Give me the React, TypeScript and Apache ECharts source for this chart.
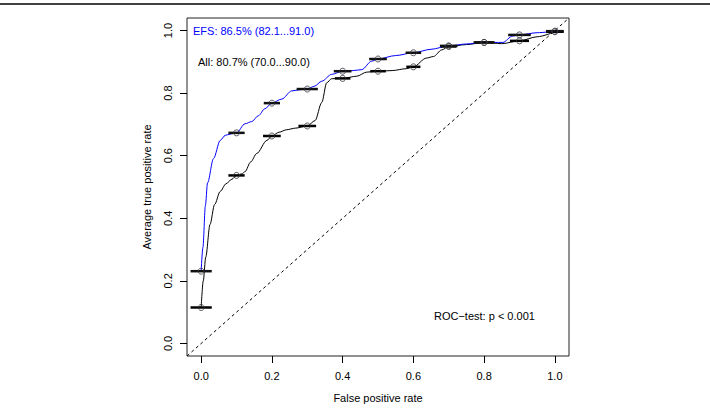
import React, { useEffect, useRef } from "react";
import * as echarts from "echarts";

// EFS averaged ROC curve
const efsX = [0, 0.005, 0.012, 0.018, 0.035, 0.054, 0.068, 0.082, 0.1, 0.124, 0.143, 0.162, 0.18, 0.2, 0.228, 0.256, 0.28, 0.3, 0.32, 0.341, 0.369, 0.4, 0.43, 0.454, 0.482, 0.5, 0.55, 0.6, 0.65, 0.7, 0.75, 0.8, 0.853, 0.88, 0.9, 0.95, 1.0];
const efsY = [0.231, 0.307, 0.44, 0.513, 0.591, 0.649, 0.665, 0.669, 0.673, 0.702, 0.709, 0.728, 0.75, 0.768, 0.781, 0.807, 0.811, 0.813, 0.822, 0.838, 0.86, 0.87, 0.872, 0.875, 0.902, 0.909, 0.92, 0.929, 0.94, 0.951, 0.957, 0.962, 0.962, 0.982, 0.986, 0.993, 0.998];

// All-features averaged ROC curve
const allX = [0, 0.006, 0.013, 0.025, 0.038, 0.054, 0.07, 0.087, 0.1, 0.115, 0.124, 0.14, 0.157, 0.186, 0.2, 0.22, 0.242, 0.266, 0.3, 0.322, 0.341, 0.355, 0.369, 0.4, 0.44, 0.468, 0.5, 0.54, 0.58, 0.6, 0.637, 0.657, 0.68, 0.7, 0.75, 0.8, 0.85, 0.9, 0.95, 1.0];
const allY = [0.115, 0.2, 0.276, 0.38, 0.444, 0.486, 0.51, 0.525, 0.537, 0.542, 0.549, 0.58, 0.607, 0.649, 0.663, 0.675, 0.683, 0.688, 0.695, 0.712, 0.77, 0.833, 0.846, 0.847, 0.854, 0.867, 0.87, 0.872, 0.878, 0.884, 0.912, 0.917, 0.938, 0.949, 0.955, 0.962, 0.958, 0.967, 0.98, 0.996];

// Threshold-averaged points with horizontal spread
const ptX = [0, 0.1, 0.2, 0.3, 0.4, 0.5, 0.6, 0.7, 0.8, 0.9, 1.0];
const efsPtY = [0.231, 0.673, 0.768, 0.813, 0.87, 0.909, 0.929, 0.951, 0.962, 0.986, 0.998];
const efsErr = [0.03, 0.023, 0.023, 0.03, 0.025, 0.025, 0.022, 0.025, 0.03, 0.032, 0.025];
const allPtY = [0.115, 0.537, 0.663, 0.695, 0.847, 0.87, 0.884, 0.949, 0.962, 0.967, 0.996];
const allErr = [0.03, 0.023, 0.025, 0.025, 0.022, 0.022, 0.02, 0.022, 0.025, 0.027, 0.025];

const tickValues = [0, 0.2, 0.4, 0.6, 0.8, 1.0];
const diagonal = [-0.04, 1.04];

const FONT = "'Liberation Sans', Arial, Helvetica, sans-serif";
const BLUE = "#0000ff";

function zip(xs: number[], ys: number[]) {
  return xs.map((x, i) => [x, ys[i]]);
}

function errSeries(ys: number[], errs: number[], color: string) {
  return {
    type: "custom",
    data: ptX.map((x, i) => [x, ys[i], errs[i]]),
    renderItem: (params: any, api: any) => {
      const x = api.value(0);
      const y = api.value(1);
      const e = api.value(2);
      const p1 = api.coord([x - e, y]);
      const p2 = api.coord([x + e, y]);
      return {
        type: "line",
        shape: { x1: p1[0], y1: p1[1], x2: p2[0], y2: p2[1] },
        style: { stroke: color, lineWidth: 2.5 },
      };
    },
    z: 3,
  };
}

export default function App() {
  const ref = useRef<HTMLDivElement>(null);
  useEffect(() => {
    if (!ref.current) return;
    const chart = echarts.init(ref.current, undefined, { renderer: "svg" });
    const axisCommon = {
      type: "value",
      min: -0.04,
      max: 1.04,
      splitLine: { show: false },
      axisLine: { show: false, onZero: false },
      axisTick: {
        show: true,
        customValues: tickValues,
        length: 7,
        lineStyle: { color: "#000", width: 1 },
      },
      axisLabel: {
        customValues: tickValues,
        formatter: (v: number) => v.toFixed(1),
        color: "#000",
        fontSize: 11,
        fontFamily: FONT,
        margin: 14,
      },
      nameLocation: "middle",
      nameTextStyle: { color: "#000", fontSize: 11, fontFamily: FONT },
    };
    chart.setOption({
      animation: false,
      grid: {
        left: 187,
        top: 18,
        width: 382,
        height: 342,
        show: true,
        borderColor: "#222",
        borderWidth: 1,
        backgroundColor: "transparent",
      },
      xAxis: { ...axisCommon, name: "False positive rate", nameGap: 36 },
      yAxis: {
        ...axisCommon,
        name: "Average true positive rate",
        nameGap: 35,
        axisLabel: { ...axisCommon.axisLabel, rotate: 90, margin: 14 },
      },
      series: [
        {
          type: "line",
          data: zip(diagonal, diagonal),
          showSymbol: false,
          lineStyle: { color: "#000", width: 1, type: [3, 3] },
          z: 1,
        },
        {
          type: "line",
          data: zip(allX, allY),
          showSymbol: false,
          smooth: 0.3,
          smoothMonotone: "x",
          lineStyle: { color: "#000", width: 1 },
          z: 2,
        },
        {
          type: "line",
          data: zip(efsX, efsY),
          showSymbol: false,
          smooth: 0.3,
          smoothMonotone: "x",
          lineStyle: { color: BLUE, width: 1 },
          z: 2,
        },
        errSeries(allPtY, allErr, "#000"),
        errSeries(efsPtY, efsErr, "#111"),
        {
          type: "scatter",
          data: zip(ptX, allPtY),
          symbol: "circle",
          symbolSize: 6,
          itemStyle: { color: "rgba(0,0,0,0)", borderColor: "#333", borderWidth: 1 },
          z: 4,
        },
        {
          type: "scatter",
          data: zip(ptX, efsPtY),
          symbol: "circle",
          symbolSize: 6,
          itemStyle: { color: "rgba(0,0,0,0)", borderColor: "#334", borderWidth: 1 },
          z: 4,
        },
      ],
      graphic: [
        {
          type: "line",
          shape: { x1: 0, y1: 4, x2: 710, y2: 4 },
          style: { stroke: "#000", lineWidth: 1.5 },
        },
        {
          type: "text",
          x: 193,
          y: 31,
          style: {
            text: "EFS: 86.5% (82.1...91.0)",
            fill: BLUE,
            fontSize: 11,
            fontFamily: FONT,
            verticalAlign: "middle",
            align: "left",
          },
        },
        {
          type: "text",
          x: 198,
          y: 62,
          style: {
            text: "All: 80.7% (70.0...90.0)",
            fill: "#000",
            fontSize: 11,
            fontFamily: FONT,
            verticalAlign: "middle",
            align: "left",
          },
        },
        {
          type: "text",
          x: 434,
          y: 316,
          style: {
            text: "ROC\u2212test: p < 0.001",
            fill: "#000",
            fontSize: 11,
            fontFamily: FONT,
            verticalAlign: "middle",
            align: "left",
          },
        },
      ],
    });
    return () => chart.dispose();
  }, []);
  return (
    <div
      ref={ref}
      style={{ position: "fixed", left: 0, top: 0, width: 710, height: 408, background: "#fff" }}
    />
  );
}
